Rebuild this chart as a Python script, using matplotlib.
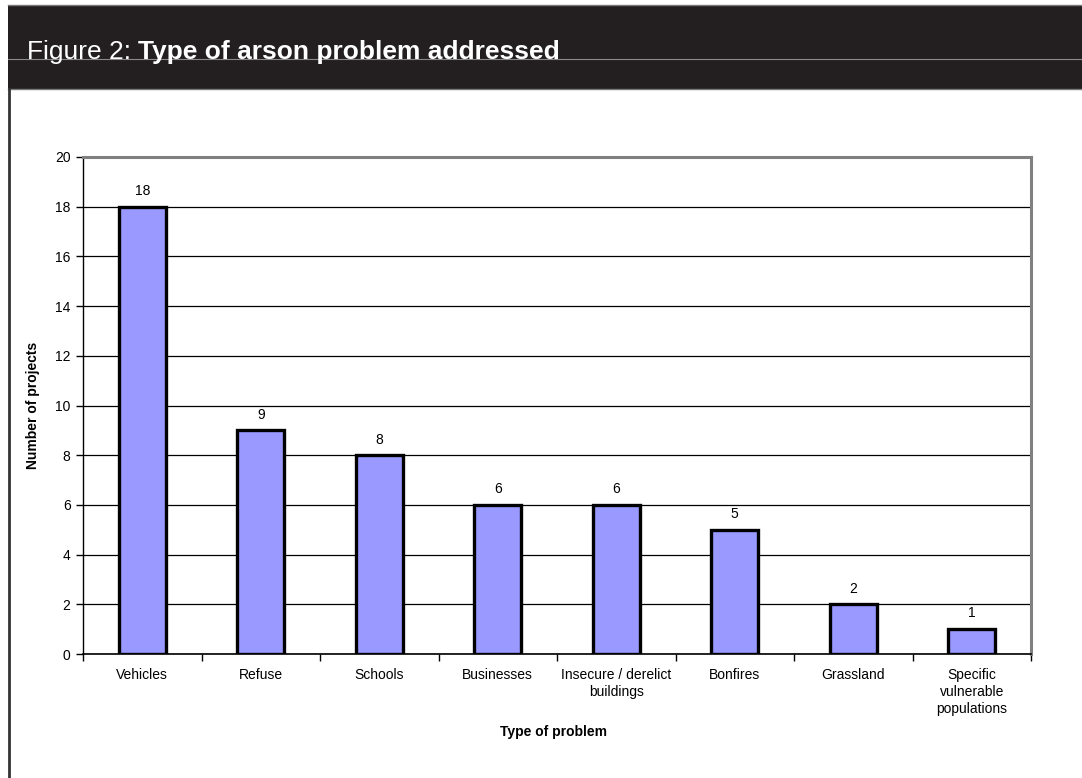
import matplotlib
matplotlib.use("Agg")
import matplotlib.pyplot as plt
from matplotlib.patches import Rectangle
from matplotlib.lines import Line2D

categories = ["Vehicles", "Refuse", "Schools", "Businesses",
              "Insecure / derelict\nbuildings", "Bonfires", "Grassland",
              "Specific\nvulnerable\npopulations"]
projects = [18, 9, 8, 6, 6, 5, 2, 1]
y_ticks = [0, 2, 4, 6, 8, 10, 12, 14, 16, 18, 20]

plt.rcParams["font.family"] = ["Liberation Sans", "DejaVu Sans"]

W, H = 1082, 778
fig = plt.figure(figsize=(W / 100, H / 100), dpi=100)
fig.patch.set_facecolor("white")


def fx(px):
    return px / W


def fy(py):
    return 1 - py / H


# Dark header band with title
fig.patches.append(Rectangle((fx(8), fy(89)), 1 - fx(8), fy(5) - fy(89),
                             transform=fig.transFigure, facecolor="#231f20",
                             edgecolor="none", zorder=0))
for yy in (5, 89):
    fig.lines.append(Line2D([fx(8), 1], [fy(yy), fy(yy)], transform=fig.transFigure,
                            color="#7a7a7a", linewidth=1.0))
fig.lines.append(Line2D([fx(8), 1], [fy(59), fy(59)], transform=fig.transFigure,
                        color="#8a8a8a", linewidth=0.8, zorder=1))
fig.lines.append(Line2D([fx(9), fx(9)], [fy(89), 0], transform=fig.transFigure,
                        color="#333333", linewidth=2.0))

t1 = fig.text(fx(27), fy(59), "Figure 2: ", color="white", fontsize=19,
              va="baseline", ha="left", zorder=3)
fig.canvas.draw()
bb = t1.get_window_extent()
fig.text(bb.x1 / W, fy(59), "Type of arson problem addressed", color="white",
         fontsize=19, fontweight="bold", va="baseline", ha="left", zorder=3)

# Chart area
left, right, top, bottom = 83, 1031, 157, 654
ax = fig.add_axes([fx(left), fy(bottom), fx(right - left), fy(top) - fy(bottom)])

x = list(range(len(categories)))
bars = ax.bar(x, projects, width=0.4, color="#9999ff", edgecolor="black",
              linewidth=2.4, zorder=3)
for xi, v in zip(x, projects):
    ax.text(xi, v + 0.35, str(v), ha="center", va="bottom", fontsize=10, zorder=4)

ax.set_xlim(-0.5, len(categories) - 0.5)
ax.set_ylim(0, 20)
ax.set_yticks(y_ticks)
ax.set_yticklabels([str(t) for t in y_ticks], fontsize=10)
ax.yaxis.grid(True, color="black", linewidth=0.9, zorder=0)
ax.set_axisbelow(True)

ax.set_xticks(x)
ax.set_xticklabels(categories, fontsize=10, linespacing=1.3)
ax.set_xticks([i - 0.5 for i in range(len(categories) + 1)], minor=True)
ax.tick_params(axis="x", which="major", length=0, pad=10)
ax.tick_params(axis="x", which="minor", length=5, width=1.0, color="black", direction="out")
ax.tick_params(axis="y", length=5, width=1.0, direction="out", pad=4)

for side in ("top", "right"):
    ax.spines[side].set_color("#808080")
    ax.spines[side].set_linewidth(2.2)
ax.spines["left"].set_color("black")
ax.spines["left"].set_linewidth(1.0)
ax.spines["bottom"].set_color("black")
ax.spines["bottom"].set_linewidth(1.2)

ax.set_ylabel("Number of projects", fontsize=10, fontweight="bold")
ax.yaxis.set_label_coords(fx(40 - left) / fx(right - left), 0.5)
fig.text(fx(553), fy(732), "Type of problem", fontsize=10, fontweight="bold",
         ha="center", va="center")

fig.savefig("out.png", dpi=100, facecolor="white")
